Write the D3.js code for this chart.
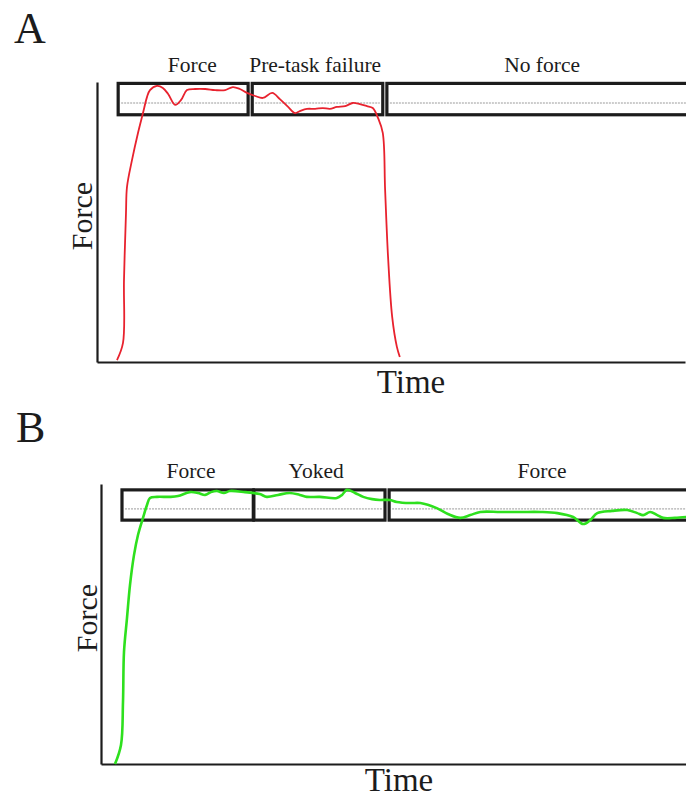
<!DOCTYPE html>
<html>
<head>
<meta charset="utf-8">
<script src="https://cdn.jsdelivr.net/npm/d3@7"></script>
<style>
  html, body { margin: 0; padding: 0; background: #ffffff; }
  svg { display: block; font-family: "Liberation Serif", "DejaVu Serif", serif; }
</style>
</head>
<body>
<script>
// ---- Panel A: force trace with a pre-task-failure phase, then force released ----
const timeA  = [3.4, 4.42, 4.59, 4.93, 5.1, 5.95, 6.97, 7.82, 8.5, 9.01, 10.2, 11.2, 12.1, 13.3, 14.3, 15.3,
                16.7, 18.4, 20.1, 21.8, 23.1, 24.3, 25.5, 26.9, 28.2, 29.8, 31.1, 32.5, 33.7, 34.5, 35.7,
                37.1, 38.4, 39.6, 40.8, 42.2, 43.5, 44.7, 45.9, 46.9, 47.8, 48.6, 49.0, 49.5, 50.2, 51.0, 51.5];
const forceA = [0.7, 6.8, 29.3, 53.2, 62.5, 72.1, 81.8, 88.9, 94.6, 97.1, 98.6, 97.9, 95.7, 91.8, 93.6, 97.1,
                97.5, 97.5, 97.1, 97.1, 98.2, 97.5, 96.1, 95.0, 94.3, 96.1, 93.9, 91.1, 88.9, 89.6, 90.4,
                90.4, 90.7, 90.4, 91.1, 91.4, 92.5, 92.1, 91.4, 90.7, 87.1, 81.8, 61.4, 37.5, 16.1, 5.4, 1.8];
const phaseLabelsA = ["Force", "Pre-task failure", "No force"];
const phaseStartA  = [3.6, 26.4, 49.3];
const phaseEndA    = [25.7, 48.6, 104];
const phaseLabelTimeA = [16.2, 37.1, 75.7];
const bandA = { high: 99.5, low: 88.3, target: 92.5 };

// ---- Panel B: force trace with a yoked phase, force maintained throughout ----
const timeB  = [2.38, 3.4, 3.74, 3.91, 4.42, 4.93, 5.61, 6.29, 7.14, 7.82, 8.33, 9.52, 11.7, 13.1, 15.1, 16.5,
                17.7, 18.7, 19.7, 20.9, 21.9, 24.5, 27.0, 28.2, 30.1, 32.1, 33.8, 35.0, 37.2, 40.1, 41.0,
                41.8, 43.2, 44.6, 46.1, 47.4, 49.1, 50.3, 52.6, 54.3, 57.1, 59.0, 61.1, 62.8, 64.5, 67.9,
                71.4, 74.8, 77.6, 80.3, 82.0, 83.2, 84.4, 86.9, 89.5, 91.2, 92.2, 93.4, 94.6, 95.6, 97.6, 99.5];
const forceB = [0.0, 6.8, 22.1, 40.0, 52.1, 63.9, 74.6, 81.8, 87.9, 92.5, 95.0, 95.4, 95.4, 95.7, 97.1, 96.8,
                96.1, 97.1, 97.5, 96.8, 97.5, 97.1, 96.4, 95.4, 96.1, 96.8, 96.1, 95.4, 95.4, 95.0, 96.1,
                97.9, 96.8, 95.4, 94.6, 94.3, 94.3, 93.6, 93.2, 93.2, 91.4, 89.3, 87.9, 88.9, 90.0, 90.0,
                90.0, 90.0, 89.6, 88.2, 85.7, 87.1, 89.6, 90.4, 90.7, 89.6, 88.9, 90.0, 88.9, 87.9, 87.9, 88.2];
const phaseLabelsB = ["Force", "Yoked", "Force"];
const phaseStartB  = [3.57, 26.0, 49.0];
const phaseEndB    = [25.9, 48.3, 104];
const phaseLabelTimeB = [15.3, 36.6, 75.0];
const bandB = { high: 97.9, low: 87.1, target: 91.1 };

const W = 686, H = 798;
const innerW = 588, innerH = 280;
const ink = "#1c1c1c";

const svg = d3.select("body").append("svg")
  .attr("width", W).attr("height", H);

function drawPanel(cfg) {
  const g = svg.append("g").attr("transform", `translate(${cfg.left},${cfg.top})`);
  const x = d3.scaleLinear().domain([0, 100]).range([0, innerW]);
  const y = d3.scaleLinear().domain([0, 100]).range([innerH, 0]);

  // axes: bare lines, no ticks
  const yAxis = g.append("g")
    .call(d3.axisLeft(y).tickValues([]).tickSizeOuter(0));
  const xAxis = g.append("g").attr("transform", `translate(0,${innerH})`)
    .call(d3.axisBottom(x).tickValues([]).tickSizeOuter(0));
  [yAxis, xAxis].forEach(a => a.select(".domain").attr("stroke", ink).attr("stroke-width", 2.2));

  // phase boxes around the target force band
  const phases = cfg.labels.map((l, i) => ({ label: l, start: cfg.starts[i], end: cfg.ends[i], at: cfg.labelAt[i] }));
  g.selectAll("rect.phase").data(phases).join("rect")
    .attr("class", "phase")
    .attr("x", d => x(d.start))
    .attr("y", y(cfg.band.high))
    .attr("width", d => x(d.end) - x(d.start))
    .attr("height", y(cfg.band.low) - y(cfg.band.high))
    .attr("fill", "none")
    .attr("stroke", ink)
    .attr("stroke-width", 3.2);

  // target force reference line
  g.selectAll("line.target").data(phases).join("line")
    .attr("class", "target")
    .attr("x1", d => x(d.start) + 3).attr("x2", d => x(d.end) - 3)
    .attr("y1", y(cfg.band.target)).attr("y2", y(cfg.band.target))
    .attr("stroke", "#9a9a9a").attr("stroke-width", 1)
    .attr("stroke-dasharray", "2,1");

  g.selectAll("text.phase-label").data(phases).join("text")
    .attr("class", "phase-label")
    .attr("x", d => x(d.at))
    .attr("y", y(cfg.band.high) - cfg.labelGap)
    .attr("text-anchor", "middle")
    .attr("font-size", 21.5)
    .attr("fill", ink)
    .text(d => d.label);

  // force trace
  const pts = cfg.time.map((t, i) => [t, cfg.force[i]]);
  g.append("path")
    .datum(pts)
    .attr("fill", "none")
    .attr("stroke", cfg.color)
    .attr("stroke-width", cfg.lineWidth)
    .attr("stroke-linejoin", "round")
    .attr("d", d3.line().x(d => x(d[0])).y(d => y(d[1])).curve(d3.curveCatmullRom.alpha(0.5)));

  // axis titles
  g.append("text")
    .attr("x", cfg.timeTitleX).attr("y", innerH + cfg.timeTitleGap)
    .attr("text-anchor", "middle")
    .attr("font-size", 33).attr("fill", ink)
    .text("Time");
  g.append("text")
    .attr("transform", `translate(${cfg.forceTitleX},${innerH / 2 - 6}) rotate(-90)`)
    .attr("text-anchor", "middle")
    .attr("font-size", 30).attr("fill", ink)
    .text("Force");

  // panel letter
  svg.append("text")
    .attr("x", cfg.letterX).attr("y", cfg.letterY)
    .attr("font-size", 44).attr("fill", ink)
    .text(cfg.letter);
}

drawPanel({
  left: 97, top: 82, letter: "A", letterX: 14, letterY: 43,
  time: timeA, force: forceA, color: "#e8222e", lineWidth: 1.8,
  labels: phaseLabelsA, starts: phaseStartA, ends: phaseEndA, labelAt: phaseLabelTimeA,
  band: bandA, labelGap: 11, timeTitleX: 314, timeTitleGap: 31, forceTitleX: -5
});

drawPanel({
  left: 101, top: 484, letter: "B", letterX: 16, letterY: 442,
  time: timeB, force: forceB, color: "#2ee01e", lineWidth: 2.6,
  labels: phaseLabelsB, starts: phaseStartB, ends: phaseEndB, labelAt: phaseLabelTimeB,
  band: bandB, labelGap: 12, timeTitleX: 298, timeTitleGap: 27, forceTitleX: -4
});
</script>
</body>
</html>
